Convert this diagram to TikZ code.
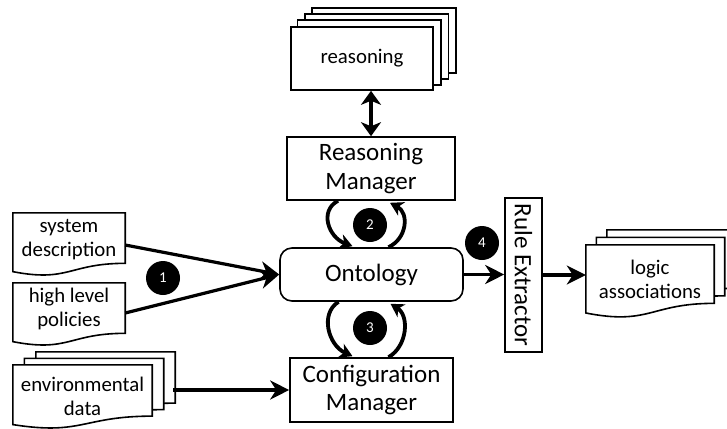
\documentclass[tikz,border=0pt]{standalone}
\usepackage{fontspec}
\usepackage{graphicx}
\setmainfont{Carlito}
\usetikzlibrary{calc,arrows.meta}
\pgfdeclarelayer{background}
\pgfsetlayers{background,main}
\newcommand\bigf{\fontsize{25}{28.5}\selectfont}
\newcommand\smallf{\fontsize{20.8}{24}\selectfont}
\tikzset{
  shapeline/.style={draw, line width=1.6pt, fill=white},
  box/.style={shapeline, align=center, inner sep=0pt, font=\bigf},
  smallbox/.style={shapeline, align=center, inner sep=0pt, font=\smallf},
  doctext/.style={align=center, inner sep=0pt, font=\smallf},
  num/.style={circle, fill=black, text=white, minimum size=34pt, inner sep=0pt, font=\fontsize{15}{18}\selectfont},
  flow/.style={line width=3.2pt, -{Stealth[length=19pt,width=19pt,inset=6pt]}},
  both/.style={line width=3.2pt, {Stealth[length=14pt,width=20pt,inset=4pt]}-{Stealth[length=14pt,width=20pt,inset=4pt]}},
  cyc/.style={line width=3.8pt, -{Stealth[length=13pt,width=15pt,inset=4pt]}}
}
% document outline under node #1, full height #2, offset (#3,#4)
\newcommand\docshape[4]{%
  \draw[shapeline] ($(#1.north west)+(#3,#4)$) -- ($(#1.north east)+(#3,#4)$)
    -- ($(#1.north east)+(#3,#4+0.802*#2)$)
    .. controls ($(#1.north)+(#3,#4+0.802*#2)$) and ($(#1.north)+(#3,#4+1.107*#2)$)
    .. ($(#1.north west)+(#3,#4+0.934*#2)$) -- cycle;}
\begin{document}
\begin{tikzpicture}[x=1pt,y=-1pt]
\useasboundingbox (0,0) rectangle (727,428);
\clip (0,0) rectangle (727,428);

% main nodes
\node[smallbox, minimum width=142pt, minimum height=63pt] (reas) at (362,58.5) {reasoning};
\node[box, minimum width=168pt, minimum height=63pt] (rm) at (371,168.5) {Reasoning\\Manager};
\node[box, rounded corners=12pt, minimum width=183pt, minimum height=53pt] (onto) at (371.5,274.5) {Ontology};
\node[box, minimum width=163pt, minimum height=64pt] (cm) at (371.5,390) {Configuration\\Manager};
\node[box, minimum width=37pt, minimum height=154pt] (re) at (523.5,275) {\rotatebox{-90}{Rule Extractor}};

% document nodes
\node[doctext, minimum width=112pt, minimum height=54pt] (sys) at (69,240) {system\\description};
\node[doctext, minimum width=112pt, minimum height=52pt] (hl) at (69,309) {high level\\policies};
\node[doctext, minimum width=139pt, minimum height=62pt] (env) at (82.5,396) {environmental\\data};
\node[doctext, minimum width=128pt, minimum height=68pt] (logic) at (650,279) {logic\\associations};

% numbered circles
\node[num] (n1) at (163,278) {1};
\node[num] (n2) at (370,225) {2};
\node[num] (n3) at (370,328) {3};
\node[num] (n4) at (482,243) {4};

% shapes behind
\begin{pgfonlayer}{background}
  \foreach \k in {3,2,1}{
    \draw[shapeline] ($(reas.north west)+(7.3*\k,-6*\k)$) rectangle ($(reas.south east)+(7.3*\k,-6*\k)$);
  }
  \docshape{sys}{63}{0}{0}
  \docshape{hl}{63}{0}{0}
  \docshape{env}{64}{23}{-13}
  \docshape{env}{64}{11.5}{-6.5}
  \docshape{env}{64}{0}{0}
  \docshape{logic}{73}{21}{-15}
  \docshape{logic}{73}{10.5}{-7.5}
  \docshape{logic}{73}{0}{0}
\end{pgfonlayer}

% connectors
\draw[both] (rm.north |- reas.south) -- (rm.north);
\draw[flow] ([yshift=-5pt]sys.east) -- (onto.west);
\draw[flow] ([yshift=-4pt]hl.east) -- (onto.west);
\draw[flow] (onto.east) -- (onto.east -| re.west);
\draw[flow] (re.east) -- (re.east -| logic.west);
\draw[flow] ([xshift=21pt]env.east |- cm.west) -- (cm.west);

% cycle arrows 2
\draw[cyc] ($(rm.south)+(-33,0)$) .. controls +(-19,10) and +(-24,-9) .. ($(onto.north)+(-19,-1)$);
\draw[cyc] ($(onto.north)+(17,0)$) .. controls +(19,-9) and +(19,10) .. ($(rm.south)+(19,2)$);
% cycle arrows 3
\draw[cyc] ($(onto.south)+(-33,0)$) .. controls +(-19,12) and +(-24,-11) .. ($(cm.north)+(-19,-1)$);
\draw[cyc] ($(cm.north)+(17,0)$) .. controls +(19,-11) and +(19,12) .. ($(onto.south)+(19,2)$);
\end{tikzpicture}
\end{document}
